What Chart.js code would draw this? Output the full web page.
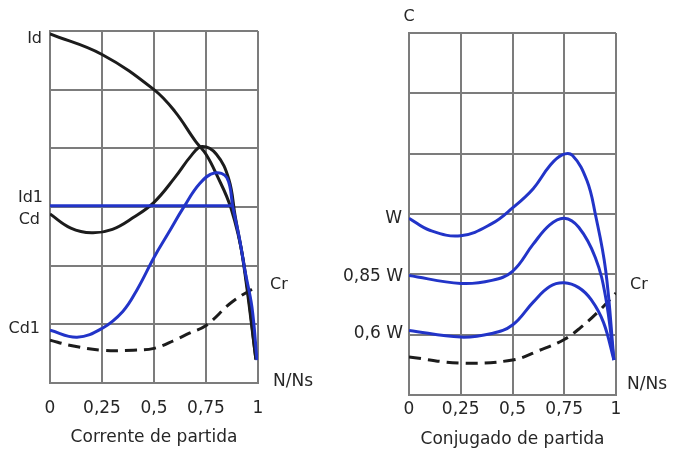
<!DOCTYPE html>
<html lang="pt">
<head>
    <meta charset="UTF-8">
    <title>Corrente e conjugado de partida</title>
    <script src="https://cdn.jsdelivr.net/npm/chart.js"></script>
    <style>
        body { margin: 0; background: #fff; }
        .box { position: absolute; top: 0; height: 452px; }
        #leftBox { left: 0; width: 336px; }
        #rightBox { left: 336px; width: 337px; }
    </style>
</head>
<body>
    <div class="box" id="leftBox"><canvas id="correnteChart"></canvas></div>
    <div class="box" id="rightBox"><canvas id="conjugadoChart"></canvas></div>

    <script>
        // eixo x comum (N/Ns)
        const xTicks = [0, 0.25, 0.5, 0.75, 1];
        const xTickLabels = ['0', '0,25', '0,5', '0,75', '1'];

        // --- Corrente de partida (unidades de grade 0..6) ---
        const idX = [0, 0.25, 0.5, 0.6, 0.7, 0.75, 0.8, 0.87, 0.93, 0.99];
        const idY = [5.95, 5.6, 5.0, 4.63, 4.12, 3.9, 3.56, 2.98, 2.08, 0.4];

        const cdX = [0, 0.1, 0.2, 0.3, 0.4, 0.5, 0.6, 0.68, 0.73, 0.8, 0.86, 0.89, 0.93, 0.99];
        const cdY = [2.88, 2.64, 2.56, 2.62, 2.82, 3.08, 3.5, 3.88, 4.03, 3.9, 3.47, 2.85, 2.05, 0.4];

        const id1X = [0, 0.88];
        const id1Y = [3.02, 3.02];

        const cd1X = [0, 0.13, 0.25, 0.35, 0.42, 0.5, 0.57, 0.64, 0.72, 0.79, 0.85, 0.88, 0.913, 0.937, 0.971, 0.995];
        const cd1Y = [0.9, 0.78, 0.93, 1.22, 1.6, 2.14, 2.56, 2.98, 3.4, 3.58, 3.5, 2.98, 2.42, 1.92, 1.29, 0.39];

        const crLeftX = [0, 0.1, 0.25, 0.4, 0.5, 0.6, 0.67, 0.75, 0.875, 1];
        const crLeftY = [0.73, 0.64, 0.56, 0.56, 0.59, 0.73, 0.85, 0.98, 1.38, 1.66];

        // --- Conjugado de partida ---
        const wX = [0, 0.1, 0.25, 0.4, 0.5, 0.6, 0.68, 0.74, 0.79, 0.86, 0.9, 0.95, 0.99];
        const wY = [2.93, 2.73, 2.64, 2.84, 3.1, 3.42, 3.8, 3.98, 3.97, 3.55, 3.0, 2.07, 0.58];

        const w85X = [0, 0.25, 0.4, 0.5, 0.6, 0.68, 0.75, 0.82, 0.9, 0.95, 0.99];
        const w85Y = [1.98, 1.85, 1.9, 2.05, 2.5, 2.82, 2.93, 2.78, 2.28, 1.62, 0.58];

        const w60X = [0, 0.25, 0.4, 0.5, 0.6, 0.68, 0.75, 0.82, 0.88, 0.94, 0.99];
        const w60Y = [1.07, 0.96, 1.02, 1.16, 1.54, 1.8, 1.86, 1.78, 1.58, 1.2, 0.58];

        const crRightX = [0, 0.25, 0.5, 0.63, 0.75, 0.83, 0.92, 1];
        const crRightY = [0.63, 0.53, 0.58, 0.74, 0.92, 1.12, 1.4, 1.69];

        const BLUE = '#2234c8';
        const BLACK = '#1c1c1c';
        const GRID = '#7c7c7c';
        const TEXT = '#262626';
        const FONT = 'DejaVu Sans';

        function pts(xs, ys) {
            return xs.map((x, i) => ({ x: x, y: ys[i] }));
        }

        function serie(xs, ys, color, dashed) {
            return {
                data: pts(xs, ys),
                borderColor: color,
                borderWidth: 3,
                borderDash: dashed ? [12, 7] : [],
                pointRadius: 0,
                tension: 0.4,
                fill: false
            };
        }

        // rótulos das curvas, desenhados em coordenadas dos eixos
        const curveLabels = {
            id: 'curveLabels',
            afterDraw(chart, args, opts) {
                const { ctx, scales: { x, y } } = chart;
                ctx.save();
                ctx.fillStyle = TEXT;
                ctx.textBaseline = 'middle';
                opts.items.forEach(l => {
                    ctx.font = (l.size || 16) + 'px "' + FONT + '"';
                    ctx.textAlign = l.align;
                    ctx.fillText(l.text, x.getPixelForValue(l.x) + l.dx, y.getPixelForValue(l.y));
                });
                ctx.restore();
            }
        };

        function makeChart(canvasId, datasets, title, box, items) {
            return new Chart(document.getElementById(canvasId), {
                type: 'line',
                data: { datasets: datasets },
                plugins: [curveLabels],
                options: {
                    responsive: true,
                    maintainAspectRatio: false,
                    animation: false,
                    layout: { padding: { top: box.top, right: box.right, left: 0, bottom: 0 } },
                    plugins: {
                        legend: { display: false },
                        tooltip: { enabled: false },
                        curveLabels: { items: items }
                    },
                    scales: {
                        x: {
                            type: 'linear',
                            min: 0,
                            max: 1,
                            afterBuildTicks: s => { s.ticks = xTicks.map(v => ({ value: v })); },
                            afterFit: s => { s.height = box.xHeight; },
                            ticks: {
                                callback: (v, i) => xTickLabels[i],
                                color: TEXT,
                                font: { family: FONT, size: 17 },
                                padding: box.tickPad,
                                maxRotation: 0,
                                autoSkip: false
                            },
                            grid: { color: GRID, lineWidth: 2, drawTicks: false },
                            border: { color: GRID, width: 2 },
                            title: {
                                display: true,
                                text: title,
                                color: TEXT,
                                font: { family: FONT, size: 17 },
                                padding: { top: 0, bottom: box.titlePad }
                            }
                        },
                        y: {
                            min: 0,
                            max: 6,
                            afterFit: s => { s.width = box.yWidth; },
                            ticks: { display: false, stepSize: 1 },
                            grid: { color: GRID, lineWidth: 2, drawTicks: false },
                            border: { color: GRID, width: 2 }
                        }
                    }
                }
            });
        }

        makeChart('correnteChart', [
            serie(cd1X, cd1Y, BLUE),
            serie(id1X, id1Y, BLUE),
            serie(idX, idY, BLACK),
            serie(cdX, cdY, BLACK),
            serie(crLeftX, crLeftY, BLACK, true)
        ], 'Corrente de partida',
        { top: 31, right: 78, yWidth: 50, xHeight: 69, tickPad: 15, titlePad: 4 },
        [
            { text: 'Id', x: 0, y: 5.86, dx: -8, align: 'right' },
            { text: 'Id1', x: 0, y: 3.15, dx: -7, align: 'right' },
            { text: 'Cd', x: 0, y: 2.78, dx: -10, align: 'right' },
            { text: 'Cd1', x: 0, y: 0.92, dx: -10, align: 'right' },
            { text: 'Cr', x: 1, y: 1.68, dx: 12, align: 'left' },
            { text: 'N/Ns', x: 1, y: 0.03, dx: 15, align: 'left', size: 17 }
        ]);

        makeChart('conjugadoChart', [
            serie(wX, wY, BLUE),
            serie(w85X, w85Y, BLUE),
            serie(w60X, w60Y, BLUE),
            serie(crRightX, crRightY, BLACK, true)
        ], 'Conjugado de partida',
        { top: 33, right: 57, yWidth: 73, xHeight: 57, tickPad: 4, titlePad: 2 },
        [
            { text: 'C', x: 0, y: 6.26, dx: 0, align: 'center' },
            { text: 'W', x: 0, y: 2.93, dx: -7, align: 'right', size: 17 },
            { text: '0,85 W', x: 0, y: 1.97, dx: -6, align: 'right', size: 17 },
            { text: '0,6 W', x: 0, y: 1.02, dx: -6, align: 'right', size: 17 },
            { text: 'Cr', x: 1, y: 1.82, dx: 14, align: 'left' },
            { text: 'N/Ns', x: 1, y: 0.17, dx: 11, align: 'left', size: 17 }
        ]);
    </script>
</body>
</html>
